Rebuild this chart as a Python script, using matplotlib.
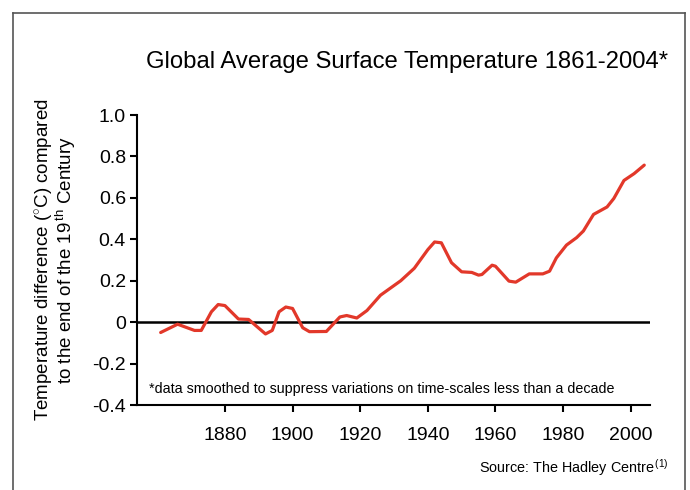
import matplotlib
matplotlib.use('Agg')
import matplotlib.pyplot as plt
from matplotlib.lines import Line2D

plt.rcParams['font.family'] = ['Liberation Sans', 'DejaVu Sans']
plt.rcParams['mathtext.fontset'] = 'custom'
plt.rcParams['mathtext.rm'] = 'Liberation Sans'
plt.rcParams['mathtext.it'] = 'Liberation Sans:italic'

# smoothed anomaly (deg C)
years = [1861, 1866, 1871, 1873, 1876, 1878, 1880, 1884, 1887, 1892, 1894,
         1896, 1898, 1900, 1903, 1905, 1910, 1914, 1916, 1919, 1922, 1926,
         1932, 1936, 1940, 1942, 1944, 1947, 1950, 1953, 1955, 1956, 1959,
         1960, 1964, 1966, 1970, 1974, 1976, 1978, 1981, 1984, 1986, 1989,
         1993, 1995, 1998, 2001, 2004]
temps = [-0.05, -0.01, -0.04, -0.04, 0.05, 0.085, 0.08, 0.015, 0.013, -0.057, -0.04,
         0.05, 0.073, 0.066, -0.027, -0.046, -0.045, 0.025, 0.032, 0.02, 0.056, 0.13,
         0.2, 0.26, 0.35, 0.387, 0.383, 0.287, 0.243, 0.24, 0.227, 0.23, 0.275,
         0.27, 0.198, 0.193, 0.233, 0.233, 0.246, 0.31, 0.372, 0.408, 0.44, 0.52,
         0.556, 0.597, 0.684, 0.717, 0.758]

y_ticks = [1.0, 0.8, 0.6, 0.4, 0.2, 0, -0.2, -0.4]
y_labels = ['1.0', '0.8', '0.6', '0.4', '0.2', '0', '-0.2', '-0.4']
x_ticks = [1880, 1900, 1920, 1940, 1960, 1980, 2000]

W, H = 690, 490
fig = plt.figure(figsize=(W / 100, H / 100), dpi=100)
fig.patch.set_facecolor('white')
ax = fig.add_axes([137 / W, 1 - 405 / H, (650 - 137) / W, (405 - 115) / H])

ax.plot(years, temps, color='#e2382a', lw=2.3, solid_capstyle='round', zorder=3)
ax.axhline(0, color='black', lw=1.8, zorder=2)

ax.set_xlim(1854, 2005.7)
ax.set_ylim(-0.4, 1.0)
ax.set_yticks(y_ticks)
ax.set_yticklabels(y_labels)
ax.set_xticks(x_ticks)
ax.set_xticklabels([str(x) for x in x_ticks])
ax.tick_params(axis='both', direction='out', length=5, width=1.5, labelsize=14, colors='black')
ax.tick_params(axis='x', pad=11)
ax.tick_params(axis='y', pad=3)
for s in ['top', 'right']:
    ax.spines[s].set_visible(False)
for s in ['left', 'bottom']:
    ax.spines[s].set_linewidth(1.5)

ax.text(1857.5, -0.325, '*data smoothed to suppress variations on time-scales less than a decade',
        fontsize=10.3, va='center', ha='left')

fig.text(407 / W, 1 - 62 / H, 'Global Average Surface Temperature 1861-2004*',
         fontsize=17.2, ha='center', va='center')
fig.text(56 / W, 1 - 260 / H,
         'Temperature difference ($^{\\circ}$C) compared\nto the end of the 19$^{\\,\\rm th}$ Century',
         rotation=90, fontsize=13.5, ha='center', va='center', multialignment='center',
         linespacing=0.92)
fig.text(668 / W, 1 - 468 / H, 'Source: The Hadley Centre$^{\\,(1)}$',
         fontsize=10.4, ha='right', va='center')

# outer frame
fc = '#555555'
fig.add_artist(Line2D([13 / W, 13 / W], [0, 1 - 13 / H], color=fc, lw=1.2))
fig.add_artist(Line2D([13 / W, 685 / W], [1 - 13 / H, 1 - 13 / H], color=fc, lw=1.2))
fig.add_artist(Line2D([685 / W, 685 / W], [0, 1 - 13 / H], color=fc, lw=1.2))

fig.savefig('out.png', dpi=100, facecolor='white')
